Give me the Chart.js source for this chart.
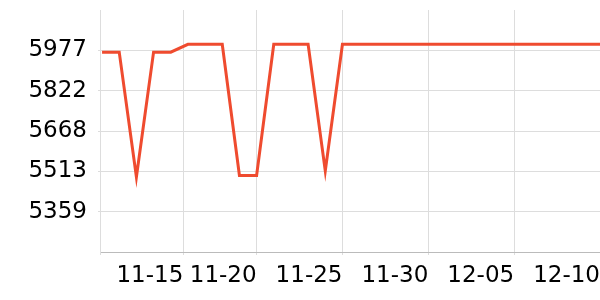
<!DOCTYPE html>
<html><head><meta charset="utf-8">
<script src="https://cdn.jsdelivr.net/npm/chart.js@4.4.1/dist/chart.umd.min.js"></script>
<style>html,body{margin:0;padding:0;background:#fff}</style>
</head><body>
<canvas id="c" width="600" height="300"></canvas>
<script>
const dates = ['11-11','11-12','11-13','11-14','11-15','11-16','11-17','11-18','11-19','11-20',
  '11-21','11-22','11-23','11-24','11-25','11-26','11-27','11-28','11-29','11-30',
  '12-01','12-02','12-03','12-04','12-05','12-06','12-07','12-08','12-09','12-10'];
const prices = [5970,5970,5492,5970,5970,6000,6000,6000,5498,5498,
  6000,6000,6000,5515,6000,6000,6000,6000,6000,6000,
  6000,6000,6000,6000,6000,6000,6000,6000,6000,6000];
const xTickDays = [-0.12, 4.73, 9, 14, 19, 24, 29];
const xTickLabels = ['', '11-15', '11-20', '11-25', '11-30', '12-05', '12-10'];
const yTickValues = [5359, 5513, 5668, 5822, 5977];
const yTickLabels = ['5359', '5513', '5668', '5822', '5977'];
const yMin = 5204.5, yMax = 6131.5;

const font = {family: 'DejaVu Sans', size: 23};
new Chart(document.getElementById('c'), {
  type: 'line',
  data: {
    datasets: [{
      data: prices.map((p, i) => ({x: i, y: p})),
      borderColor: '#ef4b2f',
      borderWidth: 3,
      pointRadius: 0,
      tension: 0,
      fill: false
    }]
  },
  options: {
    responsive: false,
    animation: false,
    layout: {padding: {top: 10, right: 0, left: 0, bottom: 0}},
    plugins: {legend: {display: false}, tooltip: {enabled: false}},
    scales: {
      x: {
        type: 'linear',
        min: xTickDays[0],
        max: dates.length - 1,
        afterBuildTicks: s => { s.ticks = xTickDays.map(v => ({value: v})); },
        afterFit: s => { s.height = 48; s.paddingLeft = 0; s.paddingRight = 0; },
        ticks: {
          callback: (v, i) => xTickLabels[i],
          align: 'end',
          autoSkip: false,
          maxRotation: 0,
          font: font,
          color: '#000',
          padding: 7
        },
        grid: {color: '#dddddd', tickLength: 3},
        border: {color: '#bbbbbb'}
      },
      y: {
        min: yMin,
        max: yMax,
        afterBuildTicks: s => { s.ticks = yTickValues.map(v => ({value: v})); },
        afterFit: s => { s.width = 100; s.paddingTop = 0; s.paddingBottom = 0; },
        ticks: {
          callback: (v, i) => yTickLabels[i],
          font: font,
          color: '#000',
          padding: 11
        },
        grid: {color: '#dddddd', tickLength: 2},
        border: {color: '#dddddd'}
      }
    }
  }
});
</script>
</body></html>
